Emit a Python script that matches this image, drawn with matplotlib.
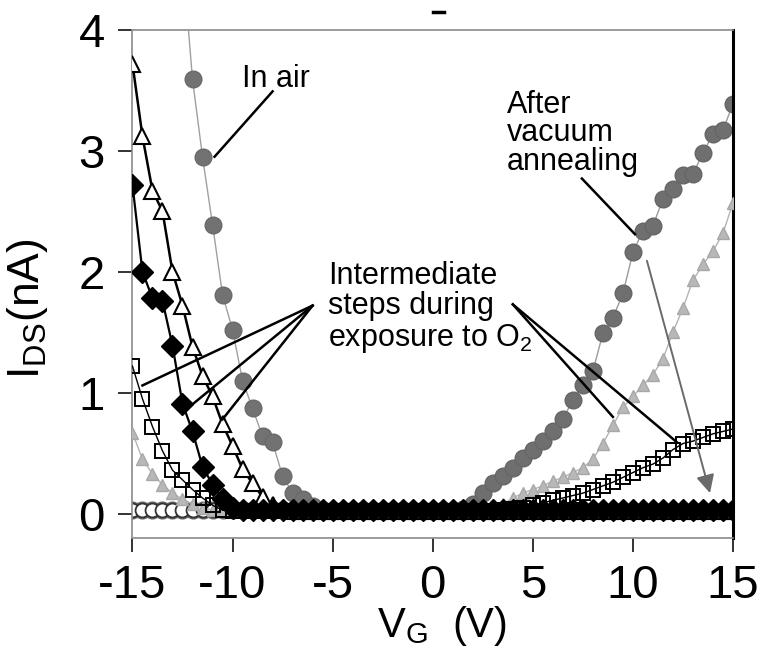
import matplotlib
matplotlib.use("Agg")
import matplotlib.pyplot as plt
from matplotlib.lines import Line2D
import numpy as np

plt.rcParams["font.family"] = ["Liberation Sans", "DejaVu Sans"]
plt.rcParams["mathtext.fontset"] = "custom"
plt.rcParams["mathtext.rm"] = "Liberation Sans"
plt.rcParams["mathtext.it"] = "Liberation Sans"

# gate sweep, 0.5 V steps
vg = np.linspace(-15, 15, 61)

# I_DS (nA) for each stage, one value per gate voltage
in_air = [
    np.nan, np.nan, np.nan, np.nan, np.nan,
    4.60, 3.59, 2.95, 2.39, 1.81, 1.52, 1.10, 0.87, 0.64, 0.59, 0.31, 0.17, 0.12, 0.06,
    0.02, 0.02, 0.02, 0.02, 0.02, 0.02, 0.02, 0.02, 0.02, 0.02, 0.02, 0.02, 0.02, 0.02,
    0.02, 0.02, 0.02, 0.02, 0.02, 0.02, 0.02, 0.02, 0.02, 0.02, 0.02, 0.02, 0.02, 0.02,
    0.02, 0.02, 0.02, 0.02, 0.02, 0.02, 0.02, 0.02, 0.02, 0.02, 0.02, 0.02, 0.02, 0.02,
]
step_open_tri = [
    3.72, 3.12, 2.67, 2.50, 2.00, 1.72, 1.38, 1.14, 0.97, 0.74, 0.56, 0.37, 0.25, 0.14, 0.07,
    0.03, 0.02, 0.02, 0.02, 0.02, 0.02, 0.02, 0.02, 0.02, 0.02, 0.02, 0.02, 0.02, 0.02,
    0.02, 0.02, 0.02, 0.02, 0.02, 0.02, 0.02, 0.02, 0.02, 0.02, 0.02, 0.02, 0.02, 0.02,
    0.02, 0.02, 0.02, 0.02, 0.02, 0.02, 0.02, 0.02, 0.02, 0.02, 0.02, 0.02, 0.02, 0.02,
    0.02, 0.02, 0.02, 0.02,
]
step_diamond = [
    2.72, 2.00, 1.78, 1.76, 1.39, 0.91, 0.68, 0.39, 0.24, 0.12, 0.05,
    0.03, 0.03, 0.03, 0.03, 0.03, 0.03, 0.03, 0.03, 0.03, 0.03, 0.03, 0.03, 0.03, 0.03,
    0.03, 0.03, 0.03, 0.03, 0.03, 0.03, 0.03, 0.03, 0.03, 0.03, 0.03, 0.03, 0.03, 0.03,
    0.03, 0.03, 0.03, 0.03, 0.03, 0.03, 0.03, 0.03, 0.03, 0.03, 0.03, 0.03, 0.03, 0.03,
    0.03, 0.03, 0.03, 0.03, 0.03, 0.03, 0.03, 0.03,
]
step_square = [
    1.22, 0.95, 0.72, 0.52, 0.36, 0.28, 0.20, 0.13, 0.07, 0.03,
    0.02, 0.02, 0.02, 0.02, 0.02, 0.02, 0.02, 0.02, 0.02, 0.02, 0.02, 0.02, 0.02,
    0.02, 0.02, 0.02, 0.02, 0.02, 0.02, 0.02, 0.02, 0.02, 0.02, 0.02, 0.02, 0.02,
    0.02, 0.03, 0.04, 0.05, 0.07, 0.09, 0.11, 0.13, 0.15, 0.17, 0.20, 0.23, 0.26,
    0.30, 0.34, 0.38, 0.41, 0.46, 0.53, 0.58, 0.60, 0.63, 0.66, 0.68, 0.70,
]
step_gray_tri = [
    0.67, 0.45, 0.33, 0.24, 0.17, 0.12, 0.08, 0.05, 0.03,
    0.02, 0.02, 0.02, 0.02, 0.02, 0.02, 0.02, 0.02, 0.02, 0.02, 0.02, 0.02, 0.02, 0.02,
    0.02, 0.02, 0.02, 0.02, 0.02, 0.02, 0.02, 0.02, 0.02, 0.02, 0.02, 0.02, 0.02,
    0.03, 0.08, 0.13, 0.17, 0.20, 0.23, 0.27, 0.30, 0.34, 0.38, 0.45, 0.58, 0.73,
    0.88, 0.97, 1.06, 1.15, 1.28, 1.50, 1.70, 1.93, 2.06, 2.17, 2.32, 2.57,
]
step_open_circle = [
    0.03, 0.03, 0.03, 0.03, 0.03, 0.03, 0.03, 0.03, 0.03, 0.03, 0.03, 0.03, 0.03,
    0.03, 0.03, 0.03, 0.03, 0.03, 0.03, 0.03, 0.03, 0.03, 0.03, 0.03, 0.03, 0.03,
    0.03, 0.03, 0.03, 0.03, 0.03, 0.03, 0.03, 0.03, 0.03, 0.03, 0.03, 0.03, 0.03,
    0.03, 0.03, 0.03, 0.03, 0.03, 0.03, 0.03, 0.03, 0.03, 0.03, 0.03, 0.03, 0.03,
    0.03, 0.03, 0.03, 0.03, 0.03, 0.03, 0.03, 0.03, 0.03,
]
annealed = [
    0.03, 0.03, 0.03, 0.03, 0.03, 0.03, 0.03, 0.03, 0.03, 0.03, 0.03,
    0.03, 0.03, 0.03, 0.03, 0.03, 0.03, 0.03, 0.03, 0.03, 0.03, 0.03,
    0.03, 0.03, 0.03, 0.03, 0.03, 0.03, 0.03, 0.03, 0.03, 0.03, 0.03,
    0.04, 0.08, 0.17, 0.25, 0.31, 0.38, 0.46, 0.53, 0.60, 0.68, 0.78, 0.94, 1.06, 1.18,
    1.49, 1.62, 1.82, 2.16, 2.34, 2.38, 2.60, 2.68, 2.80, 2.81, 2.98, 3.14, 3.17, 3.39,
]

x_ticks = [-15, -10, -5, 0, 5, 10, 15]
y_ticks = [0, 1, 2, 3, 4]

fig = plt.figure(figsize=(7.7, 6.6), dpi=100)
ax = fig.add_axes([0.172, 0.185, 0.78, 0.77])

ax.plot(vg, annealed, color="#9a9a9a", lw=1.0, marker="o", ms=12,
        mfc="#6f6f6f", mec="#666666", zorder=2)
ax.plot(vg, step_open_circle, color="#888888", lw=0.8, marker="o", ms=10,
        mfc="white", mec="#333333", mew=1.3, zorder=2.5)
ax.plot(vg, step_gray_tri, color="#b4b4b4", lw=1.0, marker="^", ms=9,
        mfc="#b8b8b8", mec="#a8a8a8", zorder=3)
ax.plot(vg, step_square, color="black", lw=1.0, marker="s", ms=10,
        mfc="none", mec="black", mew=1.4, zorder=4)
ax.plot(vg, in_air, color="#a0a0a0", lw=1.0, marker="o", ms=12,
        mfc="#727272", mec="#6a6a6a", zorder=4)
ax.plot(vg, step_open_tri, color="black", lw=1.8, marker="^", ms=11,
        mfc="white", mec="black", mew=1.5, zorder=5)
ax.plot(vg, step_diamond, color="black", lw=1.6, marker="D", ms=11.5,
        mfc="black", mec="black", zorder=6)

ax.set_xlim(-15, 15)
ax.set_ylim(-0.2, 4.0)
ax.set_xticks(x_ticks)
ax.set_yticks(y_ticks)
ax.set_xticklabels([str(v) for v in x_ticks])
ax.set_yticklabels([str(v) for v in y_ticks])
ax.tick_params(axis="both", direction="out", labelsize=34, length=10, width=1.4,
               color="#333333")
ax.tick_params(axis="x", pad=9)
ax.tick_params(axis="y", pad=10)

for side in ("left", "top", "bottom"):
    ax.spines[side].set_color("#8a8a8a")
    ax.spines[side].set_linewidth(1.2)
ax.spines["right"].set_color("black")
ax.spines["right"].set_linewidth(2.2)

ax.set_xlabel(r"V$_{\rm G}$  (V)", fontsize=30)
ax.set_ylabel(r"I$_{\rm DS}$(nA)", fontsize=32)
ax.xaxis.set_label_coords(0.516, -0.13)
ax.yaxis.set_label_coords(-0.138, 0.45)

# callouts
ax.text(-9.55, 3.53, "In air", fontsize=22, ha="left", va="baseline")
ax.plot([-8.0, -10.9], [3.49, 2.95], color="black", lw=1.8, zorder=8)

ax.text(3.7, 3.50, "After\nvacuum\nannealing", fontsize=22, ha="left", va="top",
        linespacing=0.92)
ax.plot([7.45, 10.1], [2.77, 2.31], color="black", lw=1.8, zorder=8)
ax.annotate("", xy=(13.85, 0.17), xytext=(10.7, 2.09),
            arrowprops=dict(arrowstyle="-|>,head_length=1.1,head_width=0.55",
                            color="#6a6a6a", lw=1.4, shrinkA=0, shrinkB=0),
            zorder=8)

ax.text(-5.25, 2.09, "Intermediate\nsteps during\nexposure to O$_2$", fontsize=22,
        ha="left", va="top", linespacing=1.02)
for x_end, y_end in [(-14.5, 1.06), (-12.25, 0.87), (-10.5, 0.78)]:
    ax.plot([-6.0, x_end], [1.72, y_end], color="black", lw=1.8, zorder=8)
for x_end, y_end in [(9.0, 0.80), (12.2, 0.59)]:
    ax.plot([4.0, x_end], [1.73, y_end], color="black", lw=1.8, zorder=8)

fig.add_artist(Line2D([0.562, 0.576], [0.982, 0.982], color="black", lw=2.5))

fig.savefig("out.png", dpi=100)
